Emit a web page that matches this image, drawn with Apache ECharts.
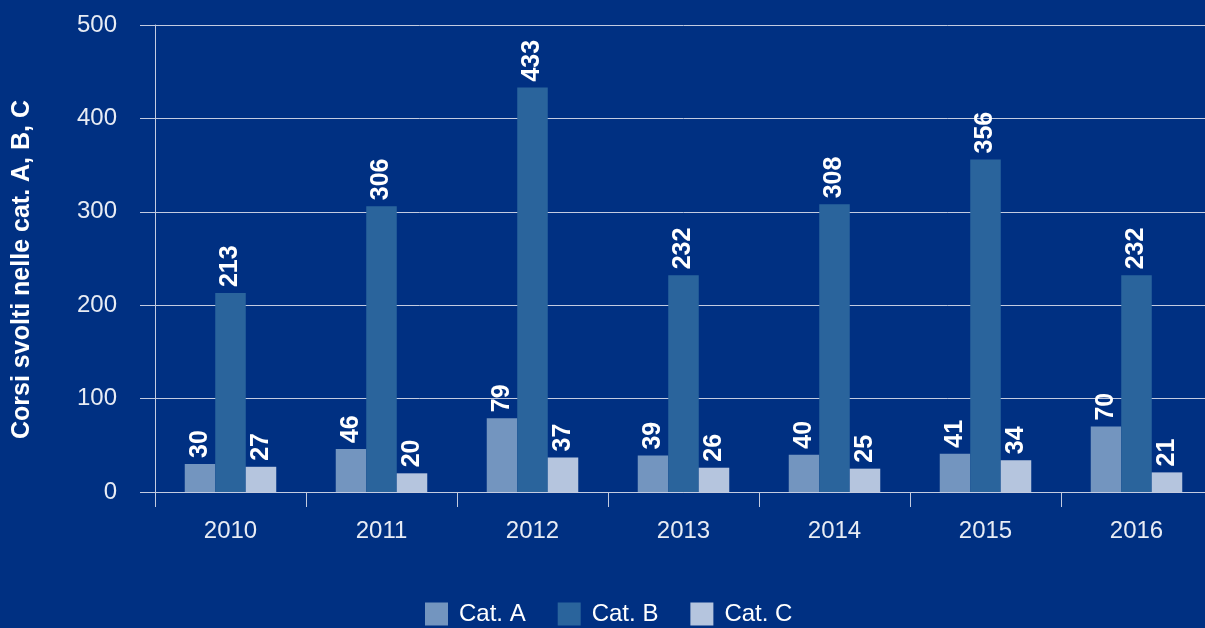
<!DOCTYPE html>
<html><head><meta charset="utf-8">
<script src="https://cdn.jsdelivr.net/npm/echarts@6/dist/echarts.min.js"></script>
<style>html,body{margin:0;padding:0;background:#003082;overflow:hidden;}#c{width:1212px;height:628px;}</style>
</head><body><div id="c"></div>
<script>
const years = ['2010','2011','2012','2013','2014','2015','2016'];
const catA = [30,46,79,39,40,41,70];
const catB = [213,306,433,232,308,356,232];
const catC = [27,20,37,26,25,34,21];
const seriesNames = ['Cat. A','Cat. B','Cat. C'];
const yTicks = [0,100,200,300,400,500];

const font = 'Liberation Sans, Helvetica, Arial, sans-serif';
const lbl = {show:true, position:'top', rotate:90, align:'left', verticalAlign:'middle', distance:6,
  color:'#ffffff', fontWeight:'bold', fontSize:25, fontFamily:font};
const mk = (name, data, color) => ({name, type:'bar', data, barWidth:30.5, barGap:'0%',
  itemStyle:{color}, label:lbl, emphasis:{disabled:true}});

const chart = echarts.init(document.getElementById('c'));
chart.setOption({
  backgroundColor:'#003082',
  animation:false,
  grid:{left:155, right:0, top:25, bottom:136, containLabel:false},
  legend:{top:597, left:420, itemWidth:23, itemHeight:23, itemGap:32, icon:'rect',
    textStyle:{color:'#ffffff', fontSize:24, fontFamily:font, padding:[0,0,0,6]}, data:seriesNames},
  xAxis:{type:'category', data:years,
    axisLine:{lineStyle:{color:'#c3cbe0', width:1}},
    axisTick:{show:true, length:15, alignWithLabel:false, lineStyle:{color:'#c3cbe0'}},
    axisLabel:{color:'#e8ecf4', fontSize:24, fontFamily:font, margin:27}},
  yAxis:{type:'value', min:yTicks[0], max:yTicks[yTicks.length-1], interval:100,
    name:'Corsi svolti nelle cat. A, B, C', nameLocation:'middle', nameGap:120, nameRotate:90,
    nameTextStyle:{color:'#ffffff', fontWeight:'bold', fontSize:25, fontFamily:font, padding:[0,22,0,0]},
    axisLine:{show:true, lineStyle:{color:'#c3cbe0'}},
    axisTick:{show:true, length:15, lineStyle:{color:'#c3cbe0'}},
    splitLine:{lineStyle:{color:'#c3cbe0', width:1}},
    axisLabel:{color:'#e8ecf4', fontSize:24, fontFamily:font, margin:38}},
  series:[mk(seriesNames[0],catA,'#7395bf'), mk(seriesNames[1],catB,'#2a649c'), mk(seriesNames[2],catC,'#b5c5de')]
});
</script></body></html>
